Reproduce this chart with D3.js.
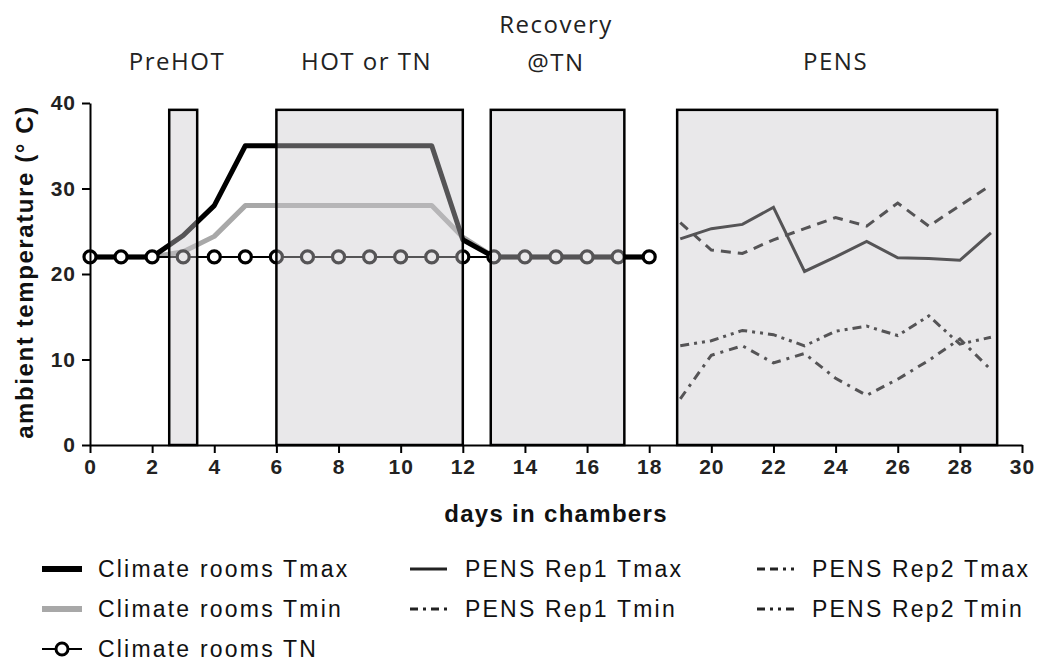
<!DOCTYPE html>
<html>
<head>
<meta charset="utf-8">
<script src="https://cdn.jsdelivr.net/npm/d3@7"></script>
<style>
  html, body { margin: 0; padding: 0; background: #fff; }
  svg { display: block; }
</style>
</head>
<body>
<svg id="chart" width="1041" height="666"></svg>
<script>
// Climate room schedule (days 0-18)
const roomDays   = [0, 1, 2, 3, 4, 5, 6, 7, 8, 9, 10, 11, 12, 13, 14, 15, 16, 17, 18];
const roomTmax   = [22, 22, 22, 24.5, 28, 35, 35, 35, 35, 35, 35, 35, 24.0, 22, 22, 22, 22, 22, 22];
const roomTmin   = [22, 22, 22, 22.6, 24.4, 28, 28, 28, 28, 28, 28, 28, 24.3, 22, 22, 22, 22, 22, 22];
const roomTN     = [22, 22, 22, 22, 22, 22, 22, 22, 22, 22, 22, 22, 22, 22, 22, 22, 22, 22, 22];

// PENS field records (days 19-29)
const pensDays     = [19, 20, 21, 22, 23, 24, 25, 26, 27, 28, 29];
const pensRep1Tmax = [24.1, 25.3, 25.8, 27.8, 20.3, 22.0, 23.8, 21.9, 21.8, 21.6, 24.8];
const pensRep2Tmax = [26.0, 22.8, 22.4, 24.0, 25.3, 26.6, 25.6, 28.3, 25.6, 28.0, 30.4];
const pensRep1Tmin = [5.4, 10.5, 11.6, 9.6, 10.7, 7.8, 5.8, 7.7, 9.9, 12.4, 8.8];
const pensRep2Tmin = [11.6, 12.2, 13.4, 12.9, 11.6, 13.3, 13.9, 12.8, 15.1, 11.8, 12.6];

// Experimental phases (shaded periods)
const phaseNames = ["PreHOT", "HOT or TN", "Recovery|@TN", "PENS"];
const phaseStart = [2.55, 6.0, 12.9, 18.9];
const phaseEnd   = [3.45, 12.0, 17.2, 29.2];
const phaseTop   = 39.2;
const phaseLabelDay = [2.8, 8.9, 15.0, 24.0];

// Axis ticks
const xTicks = [0, 2, 4, 6, 8, 10, 12, 14, 16, 18, 20, 22, 24, 26, 28, 30];
const yTicks = [0, 10, 20, 30, 40];

const svg = d3.select("#chart");
svg.append("rect").attr("width", 1041).attr("height", 666).attr("fill", "#fff");

const x = d3.scaleLinear().domain([0, 30]).range([90, 1022]);
const y = d3.scaleLinear().domain([0, 40]).range([445, 103]);

const line = d3.line().x(d => x(d[0])).y(d => y(d[1]));
const zip = (a, b) => a.map((v, i) => [v, b[i]]);

const plot = svg.append("g");

// Climate room lines
plot.append("path").attr("d", line(zip(roomDays, roomTmin)))
  .attr("fill", "none").attr("stroke", "#a8a8a8").attr("stroke-width", 5)
  .attr("stroke-linejoin", "round");
plot.append("path").attr("d", line(zip(roomDays, roomTmax)))
  .attr("fill", "none").attr("stroke", "#000").attr("stroke-width", 5)
  .attr("stroke-linejoin", "round");
plot.append("path").attr("d", line(zip(roomDays, roomTN)))
  .attr("fill", "none").attr("stroke", "#000").attr("stroke-width", 2);
plot.selectAll("circle.tn").data(zip(roomDays, roomTN)).enter().append("circle")
  .attr("class", "tn")
  .attr("cx", d => x(d[0])).attr("cy", d => y(d[1])).attr("r", 6)
  .attr("fill", "#fff").attr("stroke", "#000").attr("stroke-width", 3.2);

// PENS lines
const pensSeries = [
  { vals: pensRep1Tmax, dash: null },
  { vals: pensRep2Tmax, dash: "10,7" },
  { vals: pensRep1Tmin, dash: "9,6,3,6" },
  { vals: pensRep2Tmin, dash: "9,5,3,5,3,5" }
];
pensSeries.forEach(s => {
  plot.append("path").attr("d", line(zip(pensDays, s.vals)))
    .attr("fill", "none").attr("stroke", "#000").attr("stroke-width", 3)
    .attr("stroke-dasharray", s.dash);
});

// Shaded phase boxes, laid over the lines
const boxes = svg.append("g");
phaseStart.forEach((s, i) => {
  boxes.append("rect")
    .attr("x", x(s)).attr("y", y(phaseTop))
    .attr("width", x(phaseEnd[i]) - x(s))
    .attr("height", y(0) - y(phaseTop))
    .attr("fill", "rgb(203,200,205)").attr("fill-opacity", 0.42)
    .attr("stroke", "#000").attr("stroke-width", 2.5);
});

// Axes
const axisFont = "'Liberation Sans', Arial, sans-serif";
const xAxis = svg.append("g").attr("transform", `translate(0,${y(0)})`)
  .call(d3.axisBottom(x).tickValues(xTicks).tickSize(8).tickSizeOuter(0).tickPadding(6));
const yAxis = svg.append("g").attr("transform", `translate(${x(0)},0)`)
  .call(d3.axisLeft(y).tickValues(yTicks).tickSize(8).tickSizeOuter(0).tickPadding(6));
[xAxis, yAxis].forEach(a => {
  a.select(".domain").attr("stroke", "#000").attr("stroke-width", 2);
  a.selectAll(".tick line").attr("stroke", "#000").attr("stroke-width", 2);
  a.selectAll(".tick text").attr("fill", "#222")
    .style("font-family", axisFont).style("font-size", "21px").style("font-weight", "bold")
    .style("letter-spacing", "1px");
});
xAxis.selectAll(".tick text").attr("dy", "0.72em");

// Axis titles
svg.append("text")
  .attr("x", 556).attr("y", 522).attr("text-anchor", "middle")
  .style("font-family", axisFont).style("font-size", "24px").style("font-weight", "bold")
  .style("letter-spacing", "1.3px").attr("fill", "#111")
  .text("days in chambers");
svg.append("text")
  .attr("transform", "translate(33,272) rotate(-90)").attr("text-anchor", "middle")
  .style("font-family", axisFont).style("font-size", "24px").style("font-weight", "bold")
  .style("letter-spacing", "1.6px").attr("fill", "#111")
  .text("ambient temperature (° C)");

// Phase titles
const phaseFont = "'Open Sans', 'Noto Sans', sans-serif";
phaseNames.forEach((name, i) => {
  const parts = name.split("|");
  const t = svg.append("text")
    .attr("x", x(phaseLabelDay[i])).attr("text-anchor", "middle")
    .style("font-family", phaseFont).style("font-size", "24px")
    .style("letter-spacing", "1.5px").attr("fill", "#222");
  if (parts.length === 1) {
    t.attr("y", 70).text(parts[0]);
  } else {
    t.append("tspan").attr("x", x(phaseLabelDay[i])).attr("y", 33).text(parts[0]);
    t.append("tspan").attr("x", x(phaseLabelDay[i])).attr("y", 71).text(parts[1]);
  }
});

// Legend
const legendNames = ["Climate rooms Tmax", "Climate rooms Tmin", "Climate rooms TN",
                     "PENS Rep1 Tmax", "PENS Rep1 Tmin", "PENS Rep2 Tmax", "PENS Rep2 Tmin"];
const legendCol = [0, 0, 0, 1, 1, 2, 2];
const legendRow = [0, 1, 2, 0, 1, 0, 1];
const colX = [42, 410, 757];
const colText = [98, 465, 812];
const rowY = [569, 609, 649];
const legendStyle = [
  { color: "#000", w: 6, dash: null, marker: false, len: 40 },
  { color: "#a8a8a8", w: 6, dash: null, marker: false, len: 40 },
  { color: "#000", w: 2, dash: null, marker: true, len: 40 },
  { color: "#222", w: 3, dash: null, marker: false, len: 37 },
  { color: "#222", w: 3, dash: "8,5,3,5", marker: false, len: 37 },
  { color: "#222", w: 3, dash: "8,5,8,5,3,5", marker: false, len: 37 },
  { color: "#222", w: 3, dash: "8,5,3,5,3,5", marker: false, len: 37 }
];
const legend = svg.append("g");
legendNames.forEach((name, i) => {
  const lx = colX[legendCol[i]], ly = rowY[legendRow[i]], st = legendStyle[i];
  legend.append("line")
    .attr("x1", lx).attr("x2", lx + st.len).attr("y1", ly).attr("y2", ly)
    .attr("stroke", st.color).attr("stroke-width", st.w)
    .attr("stroke-dasharray", st.dash);
  if (st.marker) {
    legend.append("circle").attr("cx", lx + st.len / 2).attr("cy", ly).attr("r", 6)
      .attr("fill", "#fff").attr("stroke", "#000").attr("stroke-width", 3);
  }
  legend.append("text")
    .attr("x", colText[legendCol[i]]).attr("y", ly + 8)
    .style("font-family", axisFont).style("font-size", "23px")
    .style("letter-spacing", "2.2px").attr("fill", "#111")
    .text(name);
});
</script>
</body>
</html>
